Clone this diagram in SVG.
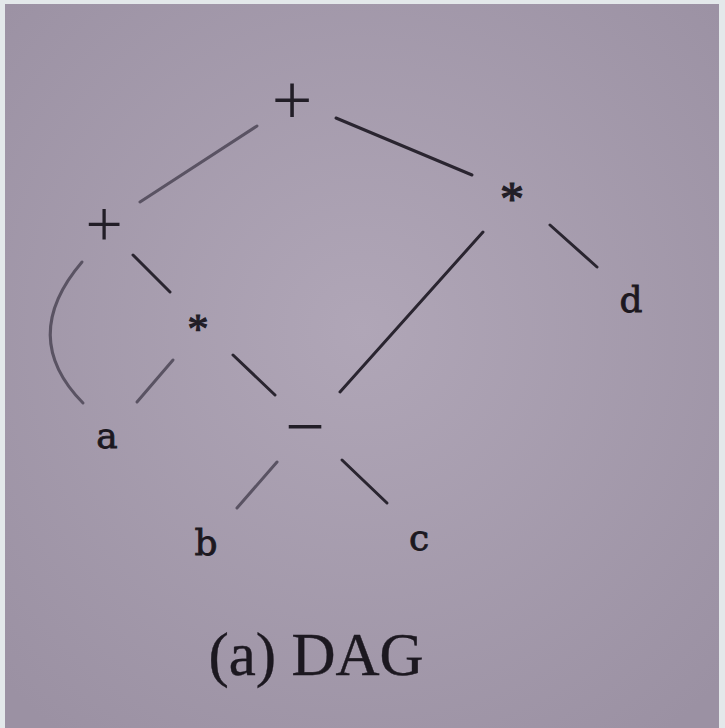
<svg xmlns="http://www.w3.org/2000/svg" width="725" height="728" viewBox="0 0 725 728">
<style>
.e{stroke:#2a2530;stroke-width:3;stroke-linecap:round;fill:none}
.f{stroke:#5a5363;stroke-width:3;stroke-linecap:round;fill:none}
.op{font-family:"Liberation Serif",serif;fill:#221e27;text-anchor:middle}
.st{stroke:#221e27;stroke-width:1.2}
.lf{font-family:"DejaVu Serif",serif;fill:#1c1820;stroke:#1c1820;stroke-width:0.8;text-anchor:middle;font-size:36px}
.cap{font-family:"Liberation Serif",serif;fill:#1c1820;stroke:#1c1820;stroke-width:0.4;text-anchor:middle;font-size:61px}
</style>
<defs>
<radialGradient id="bg" cx="0.5" cy="0.45" r="0.7">
<stop offset="0" stop-color="#b0a6b7"/>
<stop offset="1" stop-color="#9b91a3"/>
</radialGradient>
</defs>
<rect width="725" height="728" fill="#e3e8ea"/>
<rect x="5" y="4" width="714" height="724" fill="url(#bg)"/>
<g id="connectors">
<line class="f" x1="257" y1="126" x2="140" y2="202"/>
<line class="e" x1="336" y1="118" x2="472" y2="175"/>
<path class="f" d="M82,262 Q18,337 83,403"/>
<line class="e" x1="133" y1="255" x2="170" y2="292"/>
<line class="f" x1="173" y1="360" x2="137" y2="402"/>
<line class="e" x1="233" y1="355" x2="275" y2="395"/>
<line class="e" x1="483" y1="232" x2="340" y2="392"/>
<line class="e" x1="550" y1="225" x2="597" y2="267"/>
<line class="f" x1="277" y1="462" x2="237" y2="508"/>
<line class="e" x1="342" y1="460" x2="387" y2="503"/>
</g>
<g id="n-plus-top"><text class="op" x="292" y="124" font-size="72">+</text></g>
<g id="n-plus-left"><text class="op" x="104" y="246" font-size="66">+</text></g>
<g id="n-star-right"><text class="op st" x="512" y="215" font-size="48">*</text></g>
<g id="n-star-mid"><text class="op st" x="198" y="343" font-size="42">*</text></g>
<g id="n-minus"><text class="op" x="305" y="450" font-size="70">−</text></g>
<g id="n-a"><text class="lf" x="107" y="448">a</text></g>
<g id="n-b"><text class="lf" x="206" y="555">b</text></g>
<g id="n-c"><text class="lf" x="419" y="550">c</text></g>
<g id="n-d"><text class="lf" x="631" y="312">d</text></g>
<text class="cap" x="316" y="675">(a) DAG</text>
</svg>
